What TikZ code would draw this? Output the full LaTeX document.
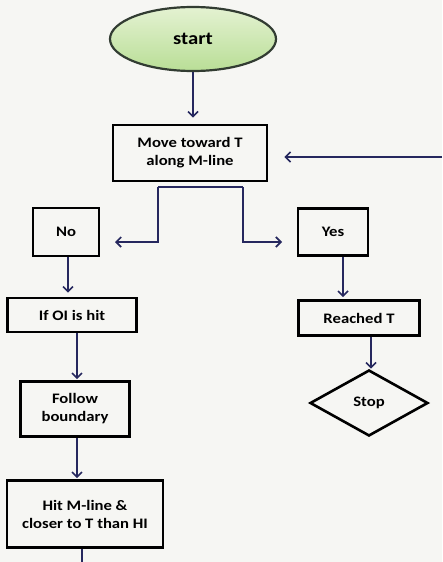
\documentclass[tikz,border=0pt]{standalone}
\usepackage{fontspec}
\setmainfont{Carlito}[FakeStretch=1.15]
\usetikzlibrary{shapes.geometric,arrows.meta}
\definecolor{navy}{HTML}{26285E}
\definecolor{paper}{HTML}{F6F6F3}
\definecolor{gtop}{HTML}{E4F2D2}
\definecolor{gbot}{HTML}{B9DE96}
\tikzset{
  box/.style={draw=black,line width=2.6pt,rectangle,align=center,inner sep=2pt,
    font=\fontsize{14.5}{18}\selectfont\bfseries},
  arr/.style={draw=navy,line width=1.7pt,-{Straight Barb[length=5pt,width=10pt]}},
  ln/.style={draw=navy,line width=1.7pt},
}
\begin{document}
\begin{tikzpicture}[x=1pt,y=-1pt]
\fill[paper] (0,0) rectangle (442,562);
\useasboundingbox (0,0) rectangle (442,562);
\node[ellipse,draw={rgb,255:red,50;green,60;blue,50},line width=2.2pt,
  top color=gtop,bottom color=gbot,minimum width=166pt,minimum height=64pt,
  font=\fontsize{18}{20}\selectfont\bfseries] (start) at (193,39) {start};
\node[box,minimum width=154pt,minimum height=56pt] (move) at (190,153) {Move toward T\\along M-line};
\node[box,minimum width=66pt,minimum height=48pt] (no) at (66,232) {No};
\node[box,minimum width=70pt,minimum height=47pt] (yes) at (333,232) {Yes};
\node[box,minimum width=129pt,minimum height=34pt] (ifoi) at (72,315) {If OI is hit};
\node[box,minimum width=121pt,minimum height=35pt] (reached) at (359,318) {Reached T};
\node[diamond,draw=black,line width=2.6pt,minimum width=118pt,minimum height=66pt,
  aspect=1.8,inner sep=0pt,font=\fontsize{14.5}{18}\selectfont\bfseries] (stop) at (369,403) {Stop};
\node[box,minimum width=109pt,minimum height=55pt] (follow) at (75,409) {Follow\\boundary};
\node[box,minimum width=156pt,minimum height=67pt] (hit) at (85,514) {Hit M-line \&\\closer to T than HI};
\coordinate (rin) at (442,157);
\coordinate (bl) at (158,187);
\coordinate (br) at (243,187);
\coordinate (nl) at (115,242);
\coordinate (yr) at (282,242);
\coordinate (hend) at (82,562);
\draw[arr,shorten >=6pt] (start.south) -- (start.south |- move.north);
\draw[arr,shorten >=16pt] (rin) -- (rin -| move.east);
\draw[ln] (bl) -- (br);
\draw[arr] (bl) |- (nl);
\draw[arr] (br) |- (yr);
\draw[arr,shorten >=4pt] ([xshift=2pt]no.south) -- ([xshift=2pt]no.south |- ifoi.north);
\draw[arr,shorten >=2pt] ([xshift=10pt]yes.south) -- ([xshift=10pt]yes.south |- reached.north);
\draw[arr] ([xshift=12pt]reached.south) -- ([xshift=12pt]reached.south |- stop.north);
\draw[arr,shorten >=1pt] ([xshift=5pt]ifoi.south) -- ([xshift=5pt]ifoi.south |- follow.north);
\draw[arr,shorten >=1pt] ([xshift=2pt]follow.south) -- ([xshift=2pt]follow.south |- hit.north);
\draw[ln] ([xshift=-3pt]hit.south) -- ([xshift=-3pt]hit.south |- hend);
\end{tikzpicture}
\end{document}
